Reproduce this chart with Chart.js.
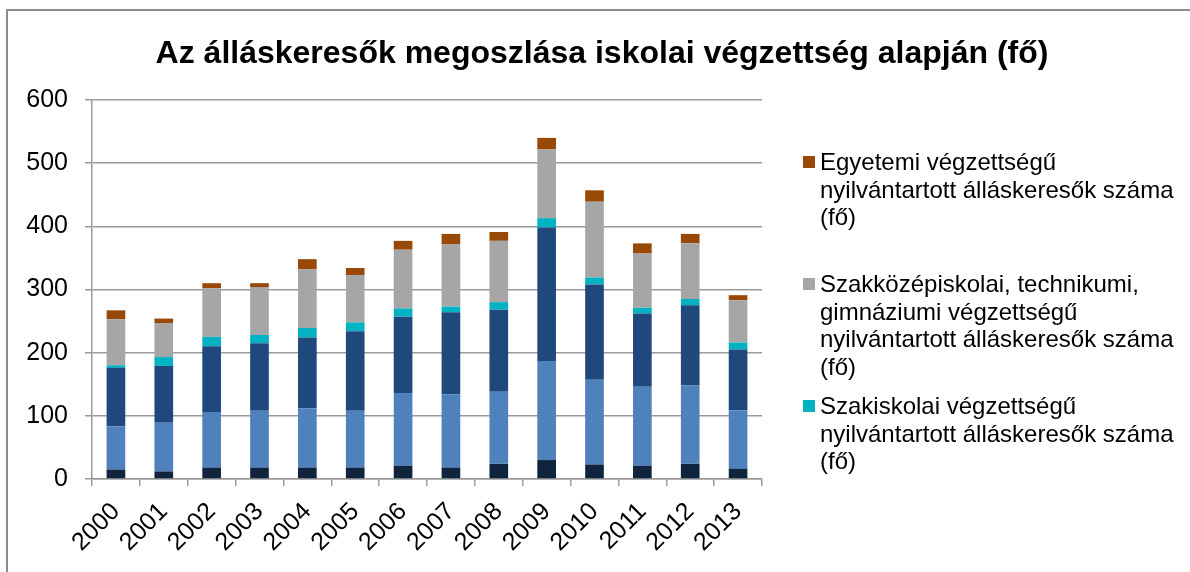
<!DOCTYPE html>
<html>
<head>
<meta charset="utf-8">
<script src="https://cdn.jsdelivr.net/npm/chart.js@4/dist/chart.umd.min.js"></script>
<style>
  html, body { margin: 0; padding: 0; background: #fff; }
  body { width: 1190px; height: 572px; position: relative; overflow: hidden; font-family: "Liberation Sans", Arial, sans-serif; }
  #frame { position: absolute; left: 6px; top: 9px; width: 1300px; height: 700px; border-top: 2px solid #8c8c8c; border-left: 2px solid #8c8c8c; }
  #title { position: absolute; left: 0; top: 33px; width: 1204px; text-align: center; font-weight: bold; font-size: 32px; line-height: 38px; color: #000; }
  #c { position: absolute; left: 0; top: 0; }
  .item { position: absolute; left: 803px; width: 385px; font-size: 24px; line-height: 27.5px; color: #000; }
  .item .sw { position: absolute; left: 0; top: 8px; width: 12px; height: 12px; }
  .item .tx { margin-left: 17px; width: 366px; }
</style>
</head>
<body>
<div id="frame"></div>
<canvas id="c" width="1190" height="572"></canvas>
<div id="title">Az álláskeresők megoszlása iskolai végzettség alapján (fő)</div>
<div id="legend"></div>
<script>
const years = ['2000', '2001', '2002', '2003', '2004', '2005', '2006', '2007', '2008', '2009', '2010', '2011', '2012', '2013'];

const nyolcAlatt = [15, 12, 18, 18, 18, 18, 21, 18, 24, 30, 23, 21, 24, 16];
const altalanos = [68, 77, 88, 90, 94, 90, 115, 116, 114, 157, 134, 125, 124, 93];
const szakmunkas = [93, 90, 104, 107, 112, 126, 121, 130, 130, 211, 151, 116, 127, 96];
const szakiskolai = [4, 14, 15, 13, 15, 14, 13, 9, 12, 15, 11, 9, 10, 11];
const szakkozep = [73, 54, 77, 76, 93, 75, 93, 99, 97, 109, 120, 86, 88, 67];
const egyetemi = [14, 7, 8, 6, 16, 11, 14, 16, 14, 18, 18, 16, 15, 8];

const seriesNames = [
    '8 általánosnál alacsonyabb végzettségű nyilvántartott álláskeresők száma (fő)',
    'Általános iskolai végzettségű nyilvántartott álláskeresők száma (fő)',
    'Szakmunkásképzői végzettségű nyilvántartott álláskeresők száma (fő)',
    'Szakiskolai végzettségű nyilvántartott álláskeresők száma (fő)',
    'Szakközépiskolai, technikumi, gimnáziumi végzettségű nyilvántartott álláskeresők száma (fő)',
    'Egyetemi végzettségű nyilvántartott álláskeresők száma (fő)'
];
const yTicks = [0, 100, 200, 300, 400, 500, 600];

const seriesValues = [nyolcAlatt, altalanos, szakmunkas, szakiskolai, szakkozep, egyetemi];
const colors = ['#10243e', '#4f81bd', '#1f497d', '#00b2c2', '#a6a6a6', '#984807'];

const gridColor = '#9a9a9a';
const tickFont = { family: '"Liberation Sans", Arial, sans-serif', size: 25 };

new Chart(document.getElementById('c').getContext('2d'), {
    type: 'bar',
    data: {
        labels: years,
        datasets: seriesValues.map(function (vals, i) {
            return {
                label: seriesNames[i],
                data: vals,
                backgroundColor: colors[i],
                borderWidth: 0,
                barPercentage: 0.39,
                categoryPercentage: 1
            };
        })
    },
    options: {
        responsive: false,
        animation: false,
        layout: { padding: { left: 0, top: 100, right: 428, bottom: 0 } },
        plugins: {
            legend: { display: false },
            title: { display: false },
            tooltip: { enabled: false }
        },
        scales: {
            x: {
                stacked: true,
                afterFit: function (s) { s.height = 93; },
                grid: { display: true, drawOnChartArea: false, offset: true, tickLength: 7, color: gridColor, lineWidth: 1.5 },
                border: { color: gridColor, width: 1.5 },
                ticks: { color: '#000', font: tickFont, minRotation: 45, maxRotation: 45, padding: 11, autoSkip: false }
            },
            y: {
                stacked: true,
                min: 0,
                max: 600,
                afterFit: function (s) { s.width = 92; },
                afterBuildTicks: function (s) { s.ticks = yTicks.map(function (v) { return { value: v }; }); },
                grid: { color: gridColor, lineWidth: 1.5, tickLength: 7 },
                border: { color: gridColor, width: 1.5 },
                ticks: { color: '#000', font: tickFont, padding: 17 }
            }
        }
    }
});

// only the upper three legend entries fit in the picture
const legendTops = [148, 270, 392];
const legendEl = document.getElementById('legend');
[5, 4, 3].forEach(function (idx, k) {
    const item = document.createElement('div');
    item.className = 'item';
    item.style.top = legendTops[k] + 'px';
    const sw = document.createElement('div');
    sw.className = 'sw';
    sw.style.background = colors[idx];
    const tx = document.createElement('div');
    tx.className = 'tx';
    tx.textContent = seriesNames[idx];
    item.appendChild(sw);
    item.appendChild(tx);
    legendEl.appendChild(item);
});
</script>
</body>
</html>
